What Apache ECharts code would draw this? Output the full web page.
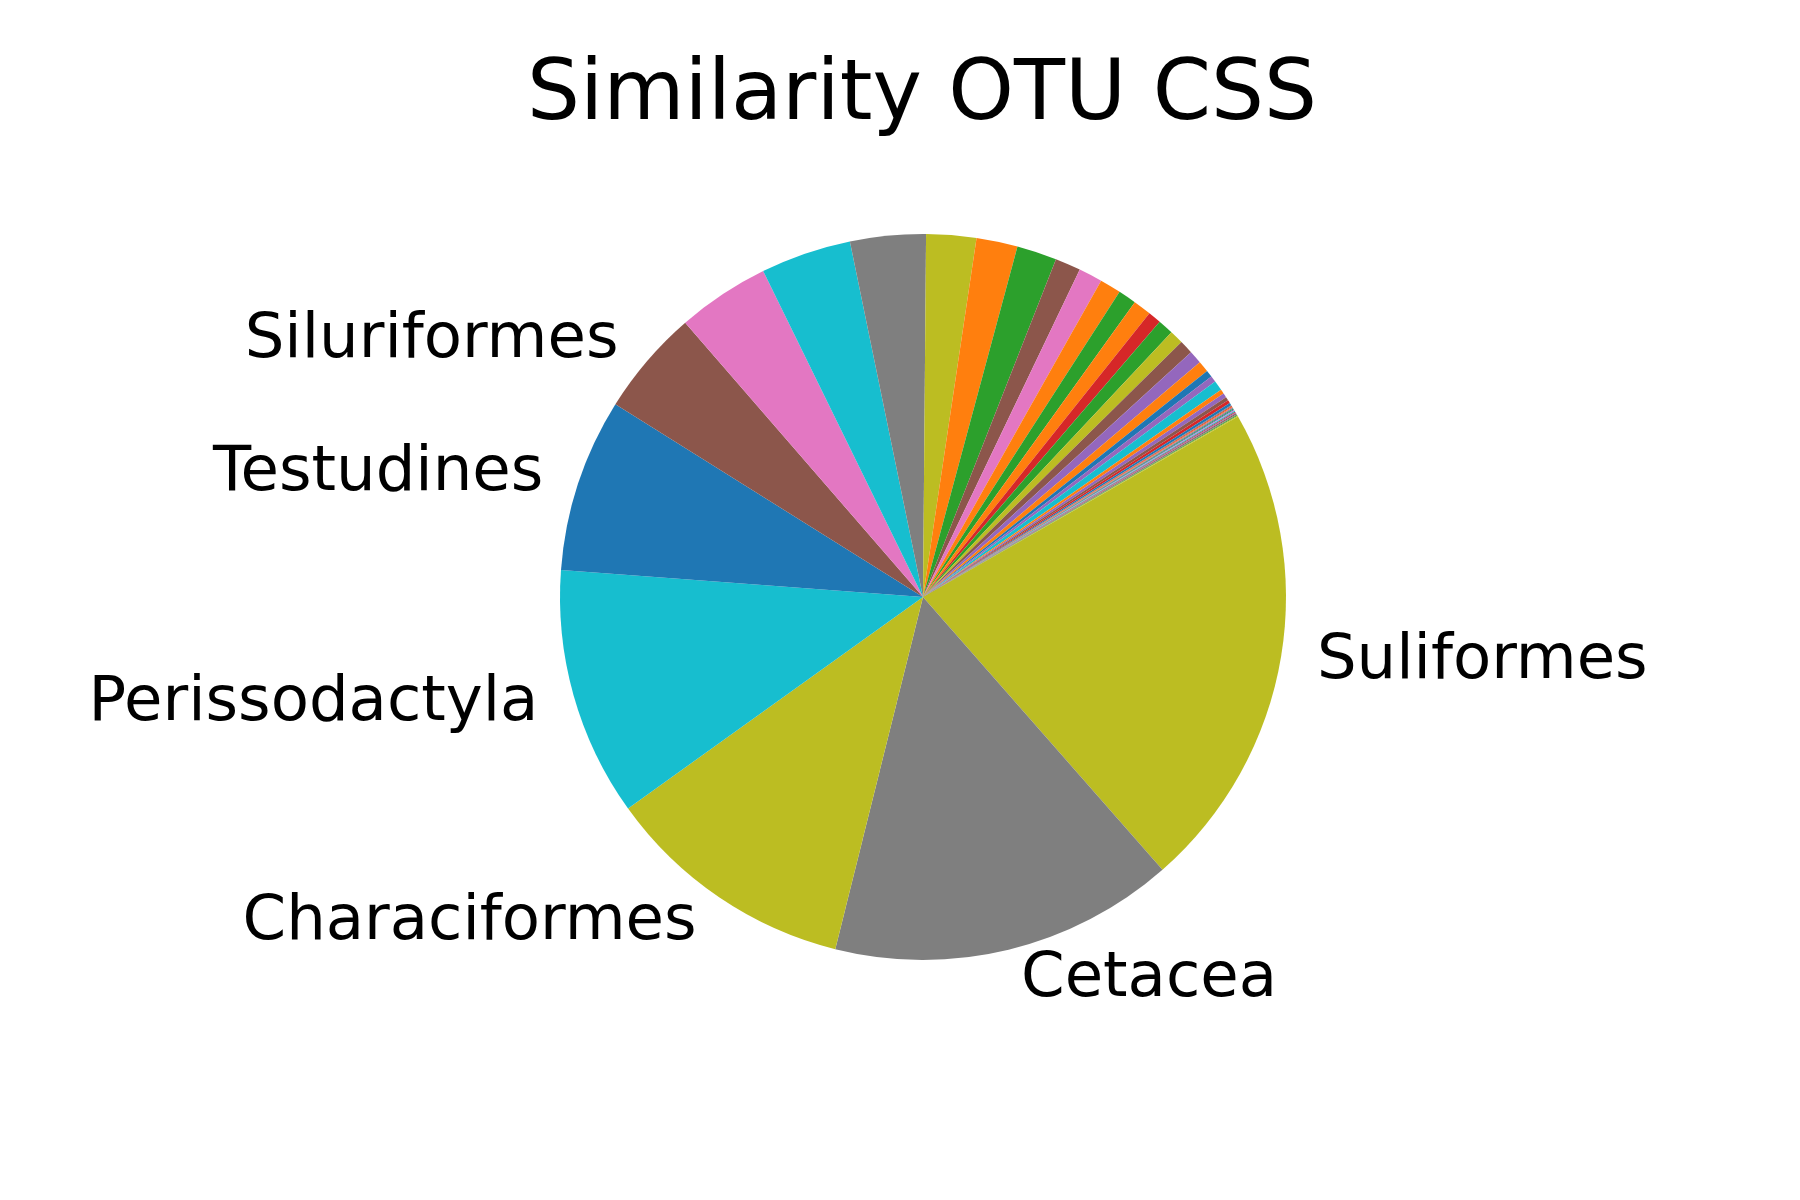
<!DOCTYPE html>
<html lang="en">
    <head>
        <meta charset="UTF-8">
        <title>Similarity OTU CSS</title>
        <script src="https://cdn.jsdelivr.net/npm/echarts@6/dist/echarts.min.js"></script>
    </head>
    <body style="margin:0;background:#fff;">
        <div id="main" style="width:1800px;height:1200px;"></div>
        <script type="text/javascript">
            // orders, clockwise from the first slice; only the big ones carry a label
            var names = ['Suliformes', 'Cetacea', 'Characiformes', 'Perissodactyla', 'Testudines', 'Siluriformes',
                '', '', '', '', '', '', '', '', '', '', '', '', '', '', '', '', '', '', '', '', '', '', '', '', '',
                '', '', '', '', '', '', '', '', '', '', '', '', '', ''];
            // share of each slice (in degrees of the circle)
            var shares = [78.5, 55.25, 40.35, 39.9, 27.8, 17.0,
                14.8, 14.5, 12.1, 8.0, 6.6, 6.4, 4.1, 3.8, 3.4, 2.9, 2.9, 2.1, 2.5, 2.2, 2.2, 2.1, 1.8, 1.1, 1.0, 1.6,
                0.7, 0.7, 0.6, 0.5, 0.4,
                0.15, 0.15, 0.15, 0.15, 0.15, 0.15, 0.15, 0.15, 0.15, 0.15, 0.15, 0.15, 0.15, 0.15];

            var c = {
                blue: '#1f77b4', orange: '#ff7f0e', green: '#2ca02c', red: '#d62728', purple: '#9467bd',
                brown: '#8c564b', pink: '#e377c2', gray: '#7f7f7f', olive: '#bcbd22', cyan: '#17becf'
            };
            var colors = [c.olive, c.gray, c.olive, c.cyan, c.blue, c.brown,
                c.pink, c.cyan, c.gray, c.olive, c.orange, c.green, c.brown, c.pink, c.orange, c.green, c.orange,
                c.red, c.green, c.olive, c.brown, c.purple, c.orange, c.blue, c.purple, c.cyan,
                c.orange, c.purple, c.brown, c.red, c.blue,
                c.gray, c.red, c.orange, c.purple, c.green, c.blue, c.pink, c.cyan, c.red, c.purple, c.brown,
                c.gray, c.green, c.olive];

            var radius = 363;
            var data = shares.map(function (v, i) {
                return {
                    name: names[i],
                    value: v,
                    itemStyle: { color: colors[i] },
                    label: { show: names[i] !== '' }
                };
            });

            var myChart = echarts.init(document.getElementById('main'));
            var option = {
                backgroundColor: '#ffffff',
                animation: false,
                title: {
                    text: 'Similarity OTU CSS',
                    left: 522,
                    top: 50,
                    textStyle: {
                        fontFamily: 'DejaVu Sans',
                        fontSize: 83.5,
                        fontWeight: 'normal',
                        color: '#000'
                    }
                },
                series: [
                    {
                        type: 'pie',
                        center: [923, 597],
                        radius: radius,
                        startAngle: 29.8,
                        clockwise: true,
                        avoidLabelOverlap: false,
                        minAngle: 0,
                        emphasis: { disabled: true },
                        itemStyle: { borderWidth: 0 },
                        label: {
                            position: 'outside',
                            fontFamily: 'DejaVu Sans',
                            fontSize: 62.5,
                            color: '#000',
                            distanceToLabelLine: 5
                        },
                        labelLine: {
                            show: false,
                            length: radius * 0.1 - 5,
                            length2: 0
                        },
                        data: data
                    }
                ]
            };
            myChart.setOption(option);
        </script>
    </body>
</html>
